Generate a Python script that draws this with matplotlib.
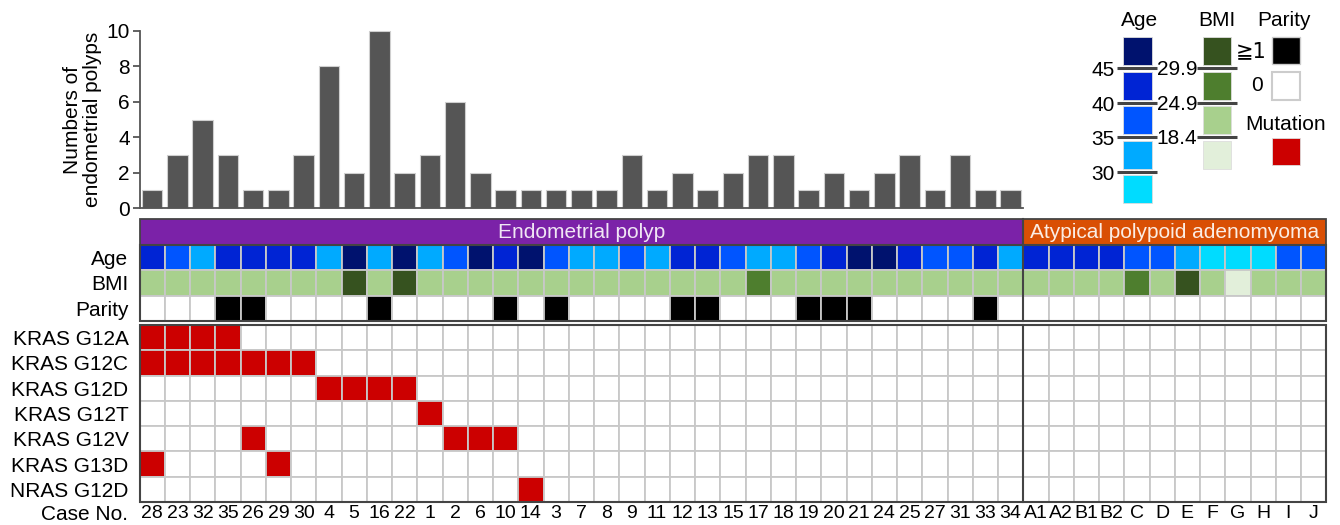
import numpy as np
import matplotlib
matplotlib.use('Agg')
import matplotlib.pyplot as plt
from matplotlib.patches import Rectangle

plt.rcParams['font.family'] = ['Liberation Sans', 'DejaVu Sans']

# ---------------- data ----------------
ep_cases = ['28', '23', '32', '35', '26', '29', '30', '4', '5', '16', '22', '1', '2', '6', '10',
            '14', '3', '7', '8', '9', '11', '12', '13', '15', '17', '18', '19', '20', '21', '24',
            '25', '27', '31', '33', '34']
apa_cases = ['A1', 'A2', 'B1', 'B2', 'C', 'D', 'E', 'F', 'G', 'H', 'I', 'J']

polyp_counts = [1, 3, 5, 3, 1, 1, 3, 8, 2, 10, 2, 3, 6, 2, 1, 1, 1, 1, 1, 3, 1, 2, 1, 2, 3, 3,
                1, 2, 1, 2, 3, 1, 3, 1, 1]

# age category: 0 <30, 1 30-35, 2 35-40, 3 40-45, 4 >45
age_ep = [3, 2, 1, 3, 3, 3, 3, 1, 4, 1, 4, 1, 2, 4, 3, 4, 2, 1, 1, 2, 1, 3, 3, 2, 1, 1, 2, 3, 4,
          4, 3, 2, 2, 3, 1]
age_apa = [3, 3, 3, 3, 2, 2, 1, 0, 0, 0, 2, 2]
# BMI category: 0 <18.4, 1 18.4-24.9, 2 24.9-29.9, 3 >29.9
bmi_ep = [1, 1, 1, 1, 1, 1, 1, 1, 3, 1, 3, 1, 1, 1, 1, 1, 1, 1, 1, 1, 1, 1, 1, 1, 2, 1, 1, 1, 1,
          1, 1, 1, 1, 1, 1]
bmi_apa = [1, 1, 1, 1, 2, 1, 3, 1, 0, 1, 1, 1]
# parity: 1 = >=1, 0 = 0
parity_ep = [0, 0, 0, 1, 1, 0, 0, 0, 0, 1, 0, 0, 0, 0, 1, 0, 1, 0, 0, 0, 0, 1, 1, 0, 0, 0, 1, 1,
             1, 0, 0, 0, 0, 1, 0]
parity_apa = [0, 0, 0, 0, 0, 0, 0, 0, 0, 0, 0, 0]

mutation_names = ['KRAS G12A', 'KRAS G12C', 'KRAS G12D', 'KRAS G12T', 'KRAS G12V',
                  'KRAS G13D', 'NRAS G12D']
kras_g12a = ['28', '23', '32', '35']
kras_g12c = ['28', '23', '32', '35', '26', '29', '30']
kras_g12d = ['4', '5', '16', '22']
kras_g12t = ['1']
kras_g12v = ['26', '2', '6', '10']
kras_g13d = ['28', '29']
nras_g12d = ['14']
mutated_lists = [kras_g12a, kras_g12c, kras_g12d, kras_g12t, kras_g12v, kras_g13d, nras_g12d]

age_labels = ['45', '40', '35', '30']
bmi_labels = ['29.9', '24.9', '18.4']

# ---------------- styles ----------------
age_colors = ['#00DCFF', '#00AAFF', '#0055FF', '#0024D4', '#00126E']
bmi_colors = ['#E2EFDA', '#A8D08D', '#4E7E2E', '#36521F']
parity_colors = ['#FFFFFF', '#000000']
mut_color = '#CC0000'
purple = '#7B22A8'
orange = '#D94F04'
cell_edge = '#C8C8C8'
dark = '#444444'
FS = 15

W, H = 1340, 525
fig = plt.figure(figsize=(W / 100, H / 100), dpi=100)


def box(l, t, r, b):
    return [l / W, 1 - b / H, (r - l) / W, (b - t) / H]


all_cases = ep_cases + apa_cases
n_ep = len(ep_cases)
n_all = len(all_cases)
GX0, CW = 139.5, 25.25

# ---------------- bar chart ----------------
ax_b = fig.add_axes(box(GX0, 31, GX0 + n_ep * CW, 208))
xb = np.arange(n_ep) + 0.5
ax_b.bar(xb, polyp_counts, width=0.82, color='#555555', edgecolor='#cfcfcf', linewidth=0.8,
         clip_on=False)
ax_b.set_xlim(0, n_ep)
ax_b.set_ylim(0, 10)
ax_b.set_yticks(range(0, 11, 2))
ax_b.set_xticks([])
for s in ['top', 'right']:
    ax_b.spines[s].set_visible(False)
for s in ['left', 'bottom']:
    ax_b.spines[s].set_color('#555555')
    ax_b.spines[s].set_linewidth(1.3)
ax_b.tick_params(axis='y', length=5, width=1.3, color='#555555', labelsize=FS, pad=2)
ax_b.set_ylabel('Numbers of\nendometrial polyps', fontsize=FS, linespacing=1.05, labelpad=3)

# ---------------- grid ----------------
HEAD, RH, GAP = 26.0, 25.3, 4.0
TOP = 219
clin_bottom = HEAD + 3 * RH
mut_top = clin_bottom + GAP
mut_bottom = mut_top + len(mutation_names) * RH

ax_g = fig.add_axes(box(GX0, TOP, GX0 + n_all * CW, TOP + mut_bottom))
ax_g.set_xlim(0, n_all)
ax_g.set_ylim(mut_bottom, 0)
for s in ax_g.spines.values():
    s.set_visible(False)

ages = age_ep + age_apa
bmis = bmi_ep + bmi_apa
parities = parity_ep + parity_apa
clin_rows = [(ages, age_colors), (bmis, bmi_colors), (parities, parity_colors)]
for r, (vals, cols) in enumerate(clin_rows):
    y0 = HEAD + r * RH
    for i, v in enumerate(vals):
        ax_g.add_patch(Rectangle((i, y0), 1, RH, facecolor=cols[v], edgecolor=cell_edge,
                                 linewidth=1.3))

for r, cases in enumerate(mutated_lists):
    y0 = mut_top + r * RH
    for i, c in enumerate(all_cases):
        fc = mut_color if c in cases else '#FFFFFF'
        ax_g.add_patch(Rectangle((i, y0), 1, RH, facecolor=fc, edgecolor=cell_edge,
                                 linewidth=1.3))

# header
ax_g.add_patch(Rectangle((0, 0), n_ep, HEAD, facecolor=purple, edgecolor=dark, linewidth=1.3,
                         clip_on=False))
ax_g.add_patch(Rectangle((n_ep, 0), n_all - n_ep, HEAD, facecolor=orange, edgecolor=dark,
                         linewidth=1.3, clip_on=False))
ax_g.text(n_ep / 2, HEAD / 2, 'Endometrial polyp', color='#F0E6F4', fontsize=FS,
          ha='center', va='center')
ax_g.text((n_ep + n_all) / 2, HEAD / 2, 'Atypical polypoid adenomyoma', color='#FBEDE4',
          fontsize=FS, ha='center', va='center')

# outlines
ax_g.add_patch(Rectangle((0, HEAD), n_all, 3 * RH, fill=False, edgecolor=dark, linewidth=1.5,
                         clip_on=False))
ax_g.add_patch(Rectangle((0, mut_top), n_all, len(mutation_names) * RH, fill=False,
                         edgecolor=dark, linewidth=1.5, clip_on=False))
ax_g.plot([n_ep, n_ep], [0, clin_bottom], color=dark, lw=1.5, clip_on=False)
ax_g.plot([n_ep, n_ep], [mut_top, mut_bottom], color=dark, lw=1.5, clip_on=False)

# row labels
row_pos = [HEAD + (k + 0.5) * RH for k in range(3)] + \
          [mut_top + (k + 0.5) * RH for k in range(len(mutation_names))]
ax_g.set_yticks(row_pos)
ax_g.set_yticklabels(['Age', 'BMI', 'Parity'] + mutation_names)
ax_g.set_xticks(np.arange(n_all) + 0.5)
ax_g.set_xticklabels(all_cases)
ax_g.tick_params(axis='y', length=0, pad=8, labelsize=FS)
ax_g.tick_params(axis='x', length=0, pad=2.5, labelsize=14)
fig.text(128 / W, 1 - (mut_bottom + TOP + 2.5) / H, 'Case No.', fontsize=FS, ha='right',
         va='top')

# ---------------- legend ----------------
ax_l = fig.add_axes([0, 0, 1, 1], zorder=-1)
ax_l.set_xlim(0, W)
ax_l.set_ylim(H, 0)
ax_l.axis('off')

LT, STEP, BH = 37, 34.5, 28
# Age
ax_l.text(1140, 20, 'Age', fontsize=FS, ha='center', va='center')
for k, c in enumerate(age_colors[::-1]):
    ax_l.add_patch(Rectangle((1123, LT + k * STEP), 29, BH, facecolor=c, edgecolor='#dddddd',
                             linewidth=0.6))
for k, lab in enumerate(age_labels):
    yl = LT + BH + (STEP - BH) / 2 + k * STEP
    ax_l.plot([1117, 1157], [yl, yl], color=dark, lw=2.2, solid_capstyle='butt')
    ax_l.text(1115, yl + 2.5, lab, fontsize=FS, ha='right', va='center')
# BMI
ax_l.text(1217, 20, 'BMI', fontsize=FS, ha='center', va='center')
for k, c in enumerate(bmi_colors[::-1]):
    ax_l.add_patch(Rectangle((1203, LT + k * STEP), 28, BH, facecolor=c, edgecolor='#dddddd',
                             linewidth=0.6))
for k, lab in enumerate(bmi_labels):
    yl = LT + BH + (STEP - BH) / 2 + k * STEP
    ax_l.plot([1197, 1237], [yl, yl], color=dark, lw=2.2, solid_capstyle='butt')
    ax_l.text(1177, yl + 1.5, lab, fontsize=FS, ha='center', va='center')
# Parity
ax_l.text(1284, 20, 'Parity', fontsize=FS, ha='center', va='center')
ax_l.add_patch(Rectangle((1272, LT), 28, 27, facecolor=parity_colors[1], edgecolor='#cccccc',
                         linewidth=1.0))
ax_l.text(1267, LT + 14, '≧1', fontsize=FS, ha='right', va='center',
          family=['DejaVu Sans', 'Liberation Sans'])
ax_l.add_patch(Rectangle((1272, LT + STEP), 28, 28, facecolor=parity_colors[0],
                         edgecolor='#cccccc', linewidth=1.5))
ax_l.text(1257, LT + STEP + 14, '0', fontsize=FS, ha='center', va='center')
ax_l.text(1286, 124, 'Mutation', fontsize=FS, ha='center', va='center')
ax_l.add_patch(Rectangle((1272, 138), 28, 27, facecolor=mut_color, edgecolor='#dddddd',
                         linewidth=0.6))

fig.savefig('out.png', dpi=100)
